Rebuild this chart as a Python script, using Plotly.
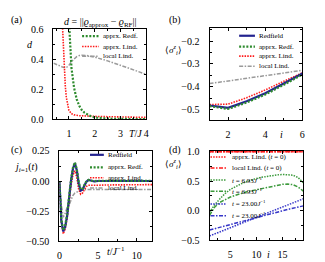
import plotly.graph_objects as go

W, H = 325, 262

# ---------------- data ----------------
# (a) distance d vs T/J
T_apx_redf = [1.0, 1.05, 1.1, 1.2, 1.3, 1.4, 1.5, 1.6, 1.8, 2.0, 2.2, 2.5, 3.0, 3.5, 4.0]
d_apx_redf = [0.66, 0.45, 0.34, 0.21, 0.135, 0.09, 0.062, 0.045, 0.025, 0.013, 0.008, 0.005, 0.003, 0.002, 0.002]
T_apx_lind = [0.74, 0.78, 0.82, 0.86, 0.9, 0.95, 1.0, 1.1, 1.2, 1.4, 1.6, 2.0, 2.5, 3.0, 3.5, 4.0]
d_apx_lind = [0.66, 0.48, 0.34, 0.22, 0.145, 0.09, 0.06, 0.038, 0.03, 0.025, 0.022, 0.02, 0.018, 0.016, 0.014, 0.013]
T_local = [0.4, 0.5, 0.6, 0.7, 0.8, 0.9, 1.0, 1.1, 1.2, 1.3, 1.4, 1.5, 1.7, 2.0, 2.5, 3.0, 3.5, 4.0]
d_local = [0.375, 0.368, 0.36, 0.352, 0.345, 0.345, 0.36, 0.385, 0.405, 0.418, 0.425, 0.428, 0.425, 0.415, 0.39, 0.36, 0.33, 0.30]

# (b) <sigma_i^z> vs site i
sites_b = [1, 2, 3, 4, 5, 6]
sz_redfield = [-0.482, -0.492, -0.463, -0.428, -0.386, -0.342]
sz_apx_redf = [-0.485, -0.497, -0.469, -0.434, -0.391, -0.346]
sz_apx_lind = [-0.478, -0.476, -0.448, -0.414, -0.376, -0.339]
sz_local = [-0.386, -0.375, -0.364, -0.353, -0.341, -0.328]

# (c) current j_{i=1}(t)
t_c = [0, 0.25, 0.5, 0.75, 1.0, 1.25, 1.5, 1.75, 2.0, 2.25, 2.5, 2.75, 3.0, 3.25, 3.5,
       3.75, 4.0, 4.5, 5.0, 6, 7, 8, 9, 10, 11, 12]
j_redfield = [0.0, -0.33, -0.42, -0.38, -0.29, -0.14, 0.0, 0.1, 0.15, 0.09, -0.02, -0.08, -0.07,
              -0.035, -0.005, 0.008, 0.006, -0.004, 0.0, 0.0, 0.0, 0.0, 0.0, 0.0, 0.0, 0.0]
j_apx_redf = [0.0, -0.32, -0.41, -0.37, -0.28, -0.13, 0.01, 0.11, 0.155, 0.1, -0.01, -0.07, -0.065,
              -0.03, 0.0, 0.01, 0.008, -0.002, 0.002, 0.002, 0.002, 0.002, 0.002, 0.002, 0.002, 0.002]
j_apx_lind = [0.0, -0.34, -0.44, -0.40, -0.31, -0.17, -0.04, 0.05, 0.085, 0.03, -0.07, -0.11, -0.10,
              -0.07, -0.045, -0.035, -0.035, -0.04, -0.035, -0.033, -0.032, -0.03, -0.03, -0.03, -0.03, -0.03]
j_local = [0.0, -0.2, -0.3, -0.27, -0.22, -0.2, -0.16, -0.12, -0.1, -0.09, -0.085, -0.08, -0.075,
           -0.072, -0.07, -0.07, -0.07, -0.07, -0.07, -0.07, -0.07, -0.07, -0.07, -0.07, -0.07, -0.07]

# (d) <sigma_i^z> profiles at different times
sites_d = list(range(1, 20))
sz_apx_lind_t0 = [1.0] * 19
sz_local_t0 = [1.0] * 19
sz_apx_t693 = [-0.03, 0.1, 0.2, 0.29, 0.36, 0.41, 0.45, 0.49, 0.52, 0.545, 0.565, 0.58, 0.595,
               0.605, 0.612, 0.612, 0.6, 0.56, 0.47]
sz_loc_t693 = [-0.08, 0.06, 0.14, 0.19, 0.23, 0.26, 0.29, 0.315, 0.335, 0.355, 0.375, 0.395, 0.41,
               0.43, 0.445, 0.45, 0.44, 0.4, 0.33]
sz_apx_t23 = [-0.43, -0.395, -0.36, -0.325, -0.29, -0.255, -0.22, -0.185, -0.15, -0.115, -0.08,
              -0.045, -0.01, 0.025, 0.06, 0.095, 0.13, 0.165, 0.2]
sz_loc_t23 = [-0.33, -0.306, -0.282, -0.258, -0.234, -0.21, -0.186, -0.162, -0.138, -0.114, -0.09,
              -0.067, -0.045, -0.023, 0.0, 0.02, 0.04, 0.06, 0.08]

# ---------------- styles ----------------
FONT = "Liberation Serif"
TICK_SIZE = 10
LAB_SIZE = 10
LEG_SIZE = 7
BLUE_D = '#23238f'
GREEN = '#2e8b2e'
RED = '#ff1a1a'
GRAY = '#9a9a9a'
GREEN_D = '#3c9a3c'
BLUE2 = '#3535c8'

S_REDF = dict(color=BLUE_D, width=2.2)
S_APXR = dict(color=GREEN, width=2.2, dash='2px,1.6px')
S_APXL = dict(color=RED, width=1.6, dash='1.5px,1.2px')
S_LOC = dict(color=GRAY, width=1.5, dash='4px,1.5px,1.5px,1.5px')
S_D_RDOT = dict(color=RED, width=1.6, dash='1.5px,1.2px')
S_D_RDD = dict(color=RED, width=1.6, dash='4px,1.5px,1.5px,1.5px')
S_D_GDOT = dict(color=GREEN_D, width=1.5, dash='1.5px,1.2px')
S_D_GDD = dict(color=GREEN_D, width=1.5, dash='4px,1.5px,1.5px,1.5px')
S_D_BDOT = dict(color=BLUE2, width=1.5, dash='1.5px,1.2px')
S_D_BDD = dict(color=BLUE2, width=1.5, dash='4px,1.5px,1.5px,1.5px')


def px(x):
    return x / W


def py(y):
    return 1 - y / H


fig = go.Figure()


def add(x, y, style, ax):
    fig.add_trace(go.Scatter(x=x, y=y, mode='lines', line=style,
                             xaxis='x' + ax, yaxis='y' + ax, showlegend=False,
                             hoverinfo='skip'))


add(T_local, d_local, S_LOC, '')
add(T_apx_lind, d_apx_lind, S_APXL, '')
add(T_apx_redf, d_apx_redf, S_APXR, '')

add(sites_b, sz_local, S_LOC, '2')
add(sites_b, sz_apx_lind, S_APXL, '2')
add(sites_b, sz_redfield, S_REDF, '2')
add(sites_b, sz_apx_redf, S_APXR, '2')

add(t_c, j_local, S_LOC, '3')
add(t_c, j_apx_lind, S_APXL, '3')
add(t_c, j_redfield, S_REDF, '3')
add(t_c, j_apx_redf, S_APXR, '3')

add(sites_d, sz_apx_lind_t0, S_D_RDOT, '4')
add(sites_d, sz_local_t0, S_D_RDD, '4')
add(sites_d, sz_apx_t693, S_D_GDOT, '4')
add(sites_d, sz_loc_t693, S_D_GDD, '4')
add(sites_d, sz_apx_t23, S_D_BDOT, '4')
add(sites_d, sz_loc_t23, S_D_BDD, '4')


def axis(domain, rng, dtick, minor_dtick, anchor, fmt=None, standoff=4):
    a = dict(domain=domain, range=rng, tickmode='linear', tick0=0, dtick=dtick,
             ticks='inside', ticklen=3, tickwidth=0.8, tickcolor='black',
             showline=True, linecolor='black', linewidth=1, mirror='ticks',
             showgrid=False, zeroline=False, anchor=anchor,
             minor=dict(ticks='inside', ticklen=2, dtick=minor_dtick, tick0=0,
                        showgrid=False, tickwidth=0.8, tickcolor='black'),
             tickfont=dict(family=FONT, size=TICK_SIZE, color='black'),
             ticklabelstandoff=standoff)
    if fmt:
        a['tickformat'] = fmt
    return a


# panel boxes in pixels: (left, right, top, bottom)
PA = (44, 138, 16, 110)
PB = (202, 296, 15, 111)
PC = (50, 144, 143, 237)
PD = (202, 297, 143, 236)


def xd(p):
    return [px(p[0]), px(p[1])]


def yd(p):
    return [py(p[3]), py(p[2])]


fig.update_layout(
    width=W, height=H, autosize=False,
    margin=dict(l=0, r=0, t=0, b=0),
    paper_bgcolor='white', plot_bgcolor='white',
    showlegend=False,
    xaxis=axis(xd(PA), [0.4, 4.0], 1, 0.5, 'y', standoff=5),
    yaxis=axis(yd(PA), [0, 0.6], 0.2, 0.1, 'x', '.1f', standoff=7),
    xaxis2=axis(xd(PB), [1, 6], 2, 1, 'y2', standoff=5),
    yaxis2=axis(yd(PB), [-0.547, -0.144], 0.1, 0.05, 'x2', '.1f', standoff=7),
    xaxis3=axis(xd(PC), [0, 12], 5, 2.5, 'y3', standoff=5),
    yaxis3=axis(yd(PC), [-0.5, 0.25], 0.25, 0.125, 'x3', '.2f', standoff=7),
    xaxis4=axis(xd(PD), [1, 19], 5, 2.5, 'y4', standoff=5),
    yaxis4=axis(yd(PD), [-0.5, 1.01], 0.5, 0.25, 'x4', '.1f', standoff=7),
)

annotations = []
shapes = []


def text(x, y, s, size=LAB_SIZE, anchor='center'):
    annotations.append(dict(x=px(x), y=py(y), xref='paper', yref='paper', text=s,
                            showarrow=False, xanchor=anchor, yanchor='middle',
                            font=dict(family=FONT, size=size, color='black')))


# panel labels
text(7, 6, '(a)')
text(167, 6, '(b)')
text(7, 142, '(c)')
text(167, 142, '(d)')

# titles / axis labels
text(91, 9, '<i>d</i> = ||<i>ϱ</i><sub>approx</sub> − <i>ϱ</i><sub>RF</sub>||')
text(20, 32, '<i>d</i>')
text(127, 125, '<i>T</i>/<i>J</i>')
text(166, 37, '⟨<i>σ</i><sup><i>z</i></sup><sub><i>i</i></sub>⟩', size=9)
text(275, 126, '<i>i</i>')
text(16, 160, '<i>j</i><sub><i>i</i>=1</sub>(<i>t</i>)')
text(107, 247, '<i>t</i>/<i>J</i><sup>−1</sup>')
text(166, 156, '⟨<i>σ</i><sup><i>z</i></sup><sub><i>i</i></sub>⟩', size=9)
text(262, 251, '<i>i</i>')


def legend(x0, x1, xt, ys, entries):
    for y, (lab, sty) in zip(ys, entries):
        ln = dict(color=sty['color'], width=sty['width'])
        if 'dash' in sty:
            ln['dash'] = sty['dash']
        shapes.append(dict(type='line', xref='paper', yref='paper',
                           x0=px(x0), x1=px(x1), y0=py(y), y1=py(y), line=ln))
        text(xt, y, lab, size=LEG_SIZE, anchor='left')


legend(73, 90, 92, [23, 34, 44],
       [('apprx. Redf.', S_APXR), ('apprx. Lind.', S_APXL), ('local Lind.', S_LOC)])
legend(232, 248, 250, [22.7, 34, 44, 54.5],
       [('Redfield', S_REDF), ('apprx. Redf.', S_APXR), ('apprx. Lind.', S_APXL),
        ('local Lind.', S_LOC)])
legend(81, 95, 97, [147, 160, 171, 181.5],
       [('Redfield', S_REDF), ('apprx. Redf.', S_APXR), ('apprx. Lind.', S_APXL),
        ('local Lind.', S_LOC)])
legend(203, 219, 223, [149.3, 160.7, 173.3, 185, 198.3, 210.7],
       [('apprx. Lind. (<i>t</i> = 0)', S_D_RDOT),
        ('local Lind. (<i>t</i> = 0)', S_D_RDD),
        ('<i>t</i> = 6.93<i>J</i><sup>−1</sup>', S_D_GDOT),
        ('<i>t</i> = 6.93<i>J</i><sup>−1</sup>', S_D_GDD),
        ('<i>t</i> = 23.00<i>J</i><sup>−1</sup>', S_D_BDOT),
        ('<i>t</i> = 23.00<i>J</i><sup>−1</sup>', S_D_BDD)])

fig.update_layout(annotations=annotations, shapes=shapes)

fig.write_html("out.html")
